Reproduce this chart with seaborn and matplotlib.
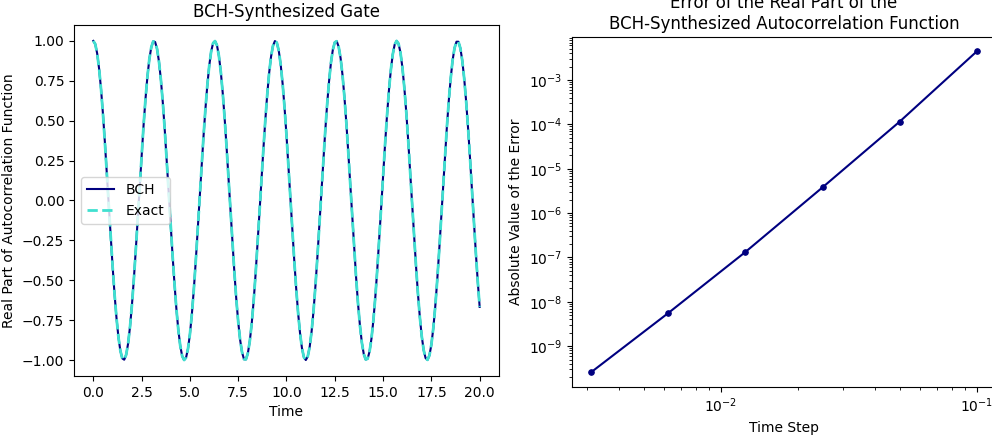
import numpy as np
import matplotlib
matplotlib.use("Agg")
import matplotlib.pyplot as plt
import seaborn as sns

# Left panel: real part of the autocorrelation function, sampled every 0.1 in time
time = np.linspace(0.0, 20.0, 201)
re_exact = [
    1.000, 0.980, 0.921, 0.825, 0.697, 0.540, 0.362, 0.170, -0.029, -0.227, -0.416,
    -0.589, -0.737, -0.857, -0.942, -0.990, -0.998, -0.967, -0.897, -0.791, -0.654,
    -0.490, -0.307, -0.112, 0.087, 0.284, 0.469, 0.635, 0.776, 0.886, 0.960,
    0.997, 0.993, 0.950, 0.869, 0.754, 0.609, 0.439, 0.251, 0.054, -0.146,
    -0.339, -0.519, -0.679, -0.811, -0.911, -0.975, -1.000, -0.985, -0.930, -0.839,
    -0.714, -0.562, -0.386, -0.196, 0.004, 0.204, 0.394, 0.568, 0.720, 0.844,
    0.934, 0.986, 0.999, 0.973, 0.907, 0.806, 0.672, 0.512, 0.331, 0.137,
    -0.063, -0.260, -0.446, -0.616, -0.760, -0.874, -0.952, -0.995, -0.996, -0.958,
    -0.882, -0.771, -0.630, -0.462, -0.275, -0.079, 0.120, 0.315, 0.497, 0.660,
    0.797, 0.901, 0.969, 0.999, 0.989, 0.939, 0.852, 0.731, 0.581, 0.408,
    0.219, 0.020, -0.178, -0.371, -0.548, -0.703, -0.830, -0.925, -0.982, -1.000,
    -0.978, -0.918, -0.821, -0.691, -0.533, -0.354, -0.163, 0.037, 0.236, 0.424,
    0.596, 0.743, 0.862, 0.945, 0.991, 0.998, 0.964, 0.893, 0.786, 0.647,
    0.483, 0.299, 0.103, -0.096, -0.292, -0.476, -0.642, -0.781, -0.890, -0.962,
    -0.997, -0.992, -0.947, -0.865, -0.748, -0.603, -0.431, -0.243, -0.046, 0.154,
    0.347, 0.526, 0.685, 0.816, 0.915, 0.977, 1.000, 0.983, 0.927, 0.834,
    0.708, 0.554, 0.377, 0.186, -0.013, -0.212, -0.401, -0.576, -0.727, -0.849,
    -0.937, -0.988, -0.999, -0.971, -0.904, -0.801, -0.667, -0.505, -0.323, -0.128,
    0.071, 0.268, 0.455, 0.623, 0.765, 0.879, 0.956, 0.995, 0.995, 0.955,
    0.877, 0.764, 0.621, 0.453, 0.267, 0.070, -0.130, -0.324, -0.505, -0.667,
]
# BCH curve overlaps the exact one everywhere in the picture
re_bch = list(re_exact)

# Right panel: error vs time step
time_steps = [0.1, 0.05, 0.025, 0.0125, 0.00625, 0.003125]
abs_error = [4.4e-3, 1.15e-4, 3.8e-6, 1.33e-7, 5.6e-9, 2.6e-10]


def main():
    fig = plt.figure(figsize=(9.92, 4.38), dpi=100)
    ax1 = fig.add_axes([0.0746, 0.1416, 0.4284, 0.8014])
    ax2 = fig.add_axes([0.5766, 0.1164, 0.4274, 0.7990])

    # left: BCH vs exact
    sns.lineplot(x=time, y=re_bch, ax=ax1, color="navy", linewidth=1.5,
                 label="BCH", sort=False)
    sns.lineplot(x=time, y=re_exact, ax=ax1, color="turquoise", linewidth=2,
                 linestyle="--", label="Exact", sort=False)
    ax1.set_title("BCH-Synthesized Gate", fontsize=12)
    ax1.set_xlabel("Time")
    ax1.set_ylabel("Real Part of Autocorrelation Function")
    ax1.legend(loc="center left")

    # right: log-log error
    ax2.set_xscale("log")
    ax2.set_yscale("log")
    sns.lineplot(x=time_steps, y=abs_error, ax=ax2, color="navy", marker="o",
                 markersize=4, markeredgecolor="navy", linewidth=1.5, sort=False)
    ax2.set_ylim(1.2e-10, 9.3e-3)
    ax2.set_title("Error of the Real Part of the\nBCH-Synthesized Autocorrelation Function",
                  fontsize=12)
    ax2.set_xlabel("Time Step")
    ax2.set_ylabel("Absolute Value of the Error")

    fig.savefig("out.png", dpi=100)


if __name__ == "__main__":
    main()
